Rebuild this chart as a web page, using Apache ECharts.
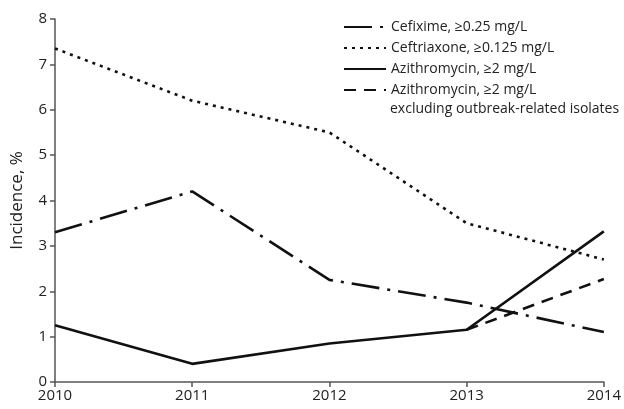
<!DOCTYPE html>
<html><head><meta charset="utf-8">
<script src="https://cdn.jsdelivr.net/npm/echarts@6/dist/echarts.min.js"></script>
<style>html,body{margin:0;padding:0;background:#fff}#c{width:624px;height:409px}</style>
</head><body><div id="c"></div>
<script>
var years = ['2010','2011','2012','2013','2014'];
var cefixime = [3.3, 4.2, 2.25, 1.75, 1.1];
var ceftriaxone = [7.35, 6.2, 5.5, 3.5, 2.7];
var azithro = [1.25, 0.4, 0.85, 1.15, 3.32];
var azithroExcl = [null, null, null, 1.15, 2.27];
var names = ['Cefixime, ≥0.25 mg/L','Ceftriaxone, ≥0.125 mg/L','Azithromycin, ≥2 mg/L','Azithromycin, ≥2 mg/L '];
var extraLine = 'excluding outbreak-related isolates';

var font = 'Open Sans';
var chart = echarts.init(document.getElementById('c'));
function ser(name, data, type) {
  return {name: name, type: 'line', data: data, symbol: 'none', connectNulls: false,
    lineStyle: {color: '#111', width: 2.6, type: type}, itemStyle: {color: '#111'}, z: 3};
}
chart.setOption({
  animation: false,
  grid: {left: 55, right: 11, top: 19, bottom: 27},
  legend: {
    orient: 'vertical', left: 338, top: 15, itemGap: 7, itemWidth: 42, itemHeight: 14,
    itemStyle: {opacity: 0},
    data: names, textStyle: {fontFamily: font, fontSize: 14, color: '#222'}
  },
  graphic: [{type: 'text', left: 390, top: 102, style: {text: extraLine, font: '14px "Open Sans"', fill: '#222'}}],
  xAxis: {
    type: 'category', data: years, boundaryGap: false,
    axisLine: {lineStyle: {color: '#555', width: 1.5}},
    axisTick: {inside: false, length: 5, lineStyle: {color: '#555', width: 1.5}},
    axisLabel: {fontFamily: font, fontSize: 15, color: '#222', margin: 6, showMaxLabel: true}
  },
  yAxis: {
    type: 'value', min: 0, max: 8, interval: 1,
    name: 'Incidence, %', nameLocation: 'middle', nameGap: 29,
    nameTextStyle: {fontFamily: font, fontSize: 17, color: '#222'},
    axisLine: {show: true, lineStyle: {color: '#555', width: 1.5}},
    axisTick: {show: true, length: 5, lineStyle: {color: '#555', width: 1.5}},
    splitLine: {show: false},
    axisLabel: {fontFamily: font, fontSize: 15, color: '#222', margin: 8}
  },
  series: [
    ser(names[0], cefixime, [28, 8, 3, 8]),
    ser(names[1], ceftriaxone, [3, 5]),
    ser(names[2], azithro, 'solid'),
    ser(names[3], azithroExcl, [12, 8])
  ]
});
</script></body></html>
